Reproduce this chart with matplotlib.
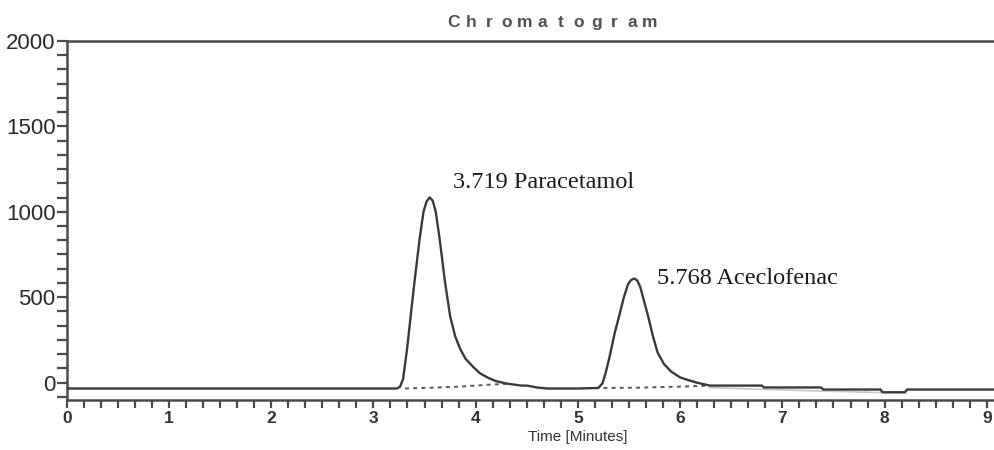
import matplotlib
matplotlib.use("Agg")
import matplotlib.pyplot as plt
from matplotlib.ticker import MultipleLocator

# trace (time in minutes, detector response)
time_min = [0.0, 1.0, 2.0, 3.0, 3.23, 3.26, 3.29, 3.33, 3.37, 3.40, 3.45, 3.49,
            3.52, 3.55, 3.58, 3.61, 3.65, 3.70, 3.75, 3.80, 3.85, 3.90, 3.97,
            4.04, 4.12, 4.20, 4.30, 4.45, 4.50, 4.60, 4.70, 5.00, 5.20, 5.24,
            5.27, 5.31, 5.36, 5.40, 5.45, 5.49, 5.52, 5.55, 5.58, 5.61, 5.65,
            5.69, 5.73, 5.78, 5.84, 5.91, 6.00, 6.08, 6.16, 6.29, 6.50, 6.80,
            6.82, 7.38, 7.40, 7.96, 7.98, 8.20, 8.22, 9.07]
signal = [-35, -35, -35, -35, -35, -25, 20, 200, 420, 580, 832, 1000,
          1060, 1084, 1065, 1000, 830, 590, 390, 270, 195, 140, 95,
          55, 28, 8, -6, -18, -18, -29, -35, -35, -32, -5,
          53, 150, 290, 381, 500, 575, 600, 609, 598, 560, 470,
          381, 280, 175, 110, 65, 30, 14, 0, -18, -18, -18,
          -29, -29, -41, -41, -57, -57, -41, -41]

# integration baselines (dotted) under the two peaks
base1_t = [3.31, 3.60, 3.90, 4.15, 4.30]
base1_v = [-35, -30, -22, -12, -8]
base2_t = [5.25, 5.60, 6.00, 6.29]
base2_v = [-32, -30, -24, -18]

# faint grey trace under the tail
grey_t = [6.29, 6.80, 7.40, 7.90, 8.20]
grey_v = [-30, -40, -50, -58, -60]

peak_labels = ["3.719 Paracetamol", "5.768 Aceclofenac"]
label_pos = [(3.78, 1141), (5.77, 574)]

x_ticks = [0, 1, 2, 3, 4, 5, 6, 7, 8, 9]
y_ticks = [0, 500, 1000, 1500, 2000]

line_col = "#3a3a3a"
axis_col = "#4a4a4a"

fig = plt.figure(figsize=(9.94, 4.5), dpi=100)
ax = fig.add_axes([0.0671, 0.112, 0.9329, 0.797])

ax.plot(grey_t, grey_v, color="#c8c8c8", lw=1.2, zorder=1)
ax.plot(base1_t, base1_v, color="#555555", lw=1.4, ls=(0, (2, 2.2)), zorder=2)
ax.plot(base2_t, base2_v, color="#555555", lw=1.4, ls=(0, (2, 2.2)), zorder=2)
ax.plot(time_min, signal, color=line_col, lw=1.7, zorder=3,
        solid_joinstyle="round")

for txt, (tx, ty) in zip(peak_labels, label_pos):
    ax.text(tx, ty, txt, family="Liberation Serif", fontsize=17.5,
            color="#1a1a1a", ha="left", va="baseline")

ax.set_xlim(0, 9.07)
ax.set_ylim(-100, 2000)

ax.spines["right"].set_visible(False)
for s in ["left", "top", "bottom"]:
    ax.spines[s].set_color(axis_col)
    ax.spines[s].set_linewidth(1.8)

ax.set_xticks(x_ticks)
ax.set_yticks(y_ticks)
ax.xaxis.set_minor_locator(MultipleLocator(1 / 6))
ax.yaxis.set_minor_locator(MultipleLocator(500 / 6))
ax.tick_params(axis="both", which="both", direction="out", color=axis_col,
               width=1.6)
ax.tick_params(axis="y", which="both", length=7, pad=1)
ax.tick_params(axis="x", which="both", length=6, pad=2)
for lab in ax.get_yticklabels():
    lab.set_family("Liberation Sans")
    lab.set_fontsize(16)
    lab.set_color("#2a2a2a")
for lab in ax.get_xticklabels():
    lab.set_family("Liberation Sans")
    lab.set_fontsize(12.5)
    lab.set_fontweight("bold")
    lab.set_color("#333333")

ax.set_xlabel("Time [Minutes]", family="Liberation Sans", fontsize=11,
              color="#333333")
ax.xaxis.set_label_coords(0.551, -0.085)

# letter-spaced title like the instrument printout
title = "Chromatogram"
x0 = 0.456
step = 0.018
for i, ch in enumerate(title):
    fig.text(x0 + i * step, 0.951, ch, family="Liberation Sans", fontsize=12.5,
             fontweight="bold", color="#505050", ha="center", va="center")

fig.savefig("out.png", dpi=100, facecolor="white")
